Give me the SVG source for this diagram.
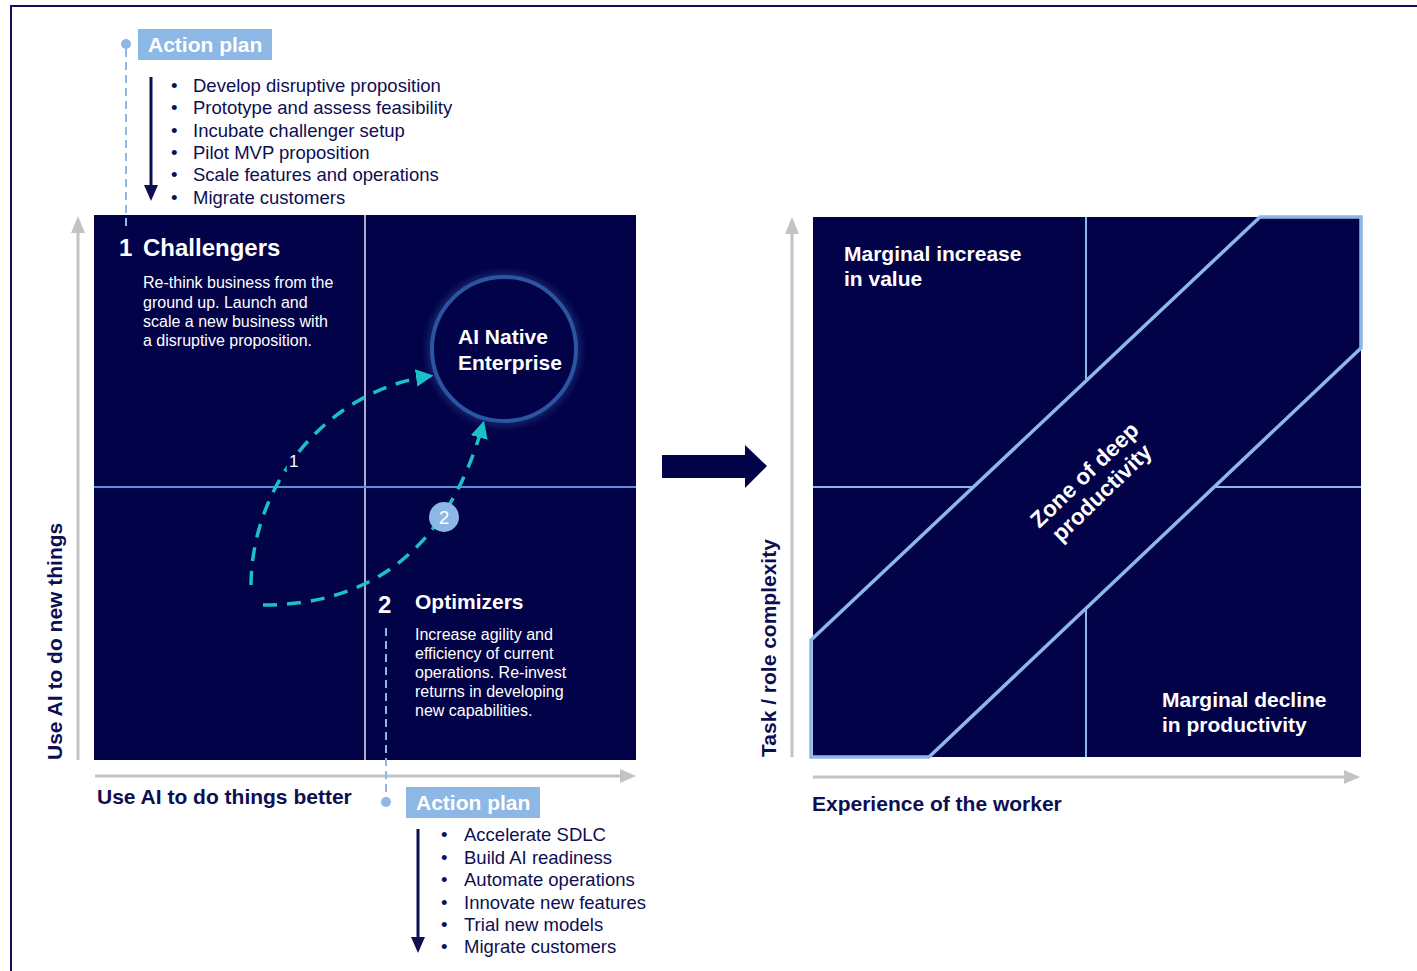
<svg xmlns="http://www.w3.org/2000/svg" width="1417" height="971" viewBox="0 0 1417 971">
<defs>
<style>
.t{font-family:"Liberation Sans",Arial,sans-serif;}
.b{font-weight:bold;}
.nv{fill:#0e0e52;}
.wh{fill:#ffffff;}
.panel{fill:#020248;}
.axis{stroke:#c3c3c3;stroke-width:3;fill:none;}
.axh{fill:#c3c3c3;}
.cy{stroke:#1ac2c8;stroke-width:3.5;fill:none;stroke-dasharray:14 10;}
.apdash{stroke:#8db7e5;stroke-width:2;stroke-dasharray:8 5;fill:none;}
.lb{stroke:#8db7e5;stroke-width:2;fill:none;}
.bul{font-size:18.5px;}
.desc{font-size:16px;}
</style>
<marker id="cyArrow" viewBox="0 0 10 10" refX="8" refY="5" markerWidth="5" markerHeight="5" markerUnits="strokeWidth" orient="auto">
<path d="M0,0 L10,5 L0,10 z" fill="#1ac2c8"/>
</marker>
<filter id="glow" x="-30%" y="-30%" width="160%" height="160%">
<feGaussianBlur stdDeviation="4"/>
</filter>
</defs>

<rect x="11" y="6" width="1420" height="980" fill="none" stroke="#10105a" stroke-width="2"/>

<!-- Left quadrant panel -->
<g id="left-panel">
<rect class="panel" x="94" y="215" width="542" height="545"/>
<line x1="365" y1="215" x2="365" y2="760" stroke="#a9afcc" stroke-width="2"/>
<line x1="94" y1="487" x2="636" y2="487" stroke="#5b8fd6" stroke-width="2"/>
</g>

<!-- Axes left -->
<g id="left-axes">
<line class="axis" x1="78" y1="760" x2="78" y2="230"/>
<polygon class="axh" points="71,233 85,233 78,216"/>
<line class="axis" x1="95" y1="776" x2="620" y2="776"/>
<polygon class="axh" points="620,769 620,783 636,776"/>
<text class="t b nv" font-size="21" transform="translate(62,760) rotate(-90)">Use AI to do new things</text>
<text class="t b nv" font-size="21" x="97" y="804">Use AI to do things better</text>
</g>

<!-- Top action plan -->
<g id="action-plan-top">
<line class="apdash" x1="126" y1="49" x2="126" y2="230"/>
<circle cx="126" cy="44" r="5" fill="#8db7e5"/>
<rect x="138" y="29" width="134" height="31" fill="#8db7e5"/>
<text class="t b wh" font-size="21" x="148" y="52">Action plan</text>
<line x1="151" y1="77" x2="151" y2="188" stroke="#0e0e52" stroke-width="3"/>
<polygon points="144,185 158,185 151,201" fill="#0e0e52"/>
<g class="t nv bul">
<text x="171" y="92">•</text><text x="193" y="92">Develop disruptive proposition</text>
<text x="171" y="114">•</text><text x="193" y="114">Prototype and assess feasibility</text>
<text x="171" y="137">•</text><text x="193" y="137">Incubate challenger setup</text>
<text x="171" y="159">•</text><text x="193" y="159">Pilot MVP proposition</text>
<text x="171" y="181">•</text><text x="193" y="181">Scale features and operations</text>
<text x="171" y="204">•</text><text x="193" y="204">Migrate customers</text>
</g>
</g>

<!-- Challengers -->
<g id="challengers">
<text class="t b wh" font-size="24" x="119" y="256">1</text>
<text class="t b wh" font-size="24" x="143" y="256">Challengers</text>
<g class="t wh desc">
<text x="143" y="288">Re-think business from the</text>
<text x="143" y="308">ground up. Launch and</text>
<text x="143" y="327">scale a new business with</text>
<text x="143" y="346">a disruptive proposition.</text>
</g>
</g>

<!-- AI Native Enterprise -->
<g id="ai-native">
<circle cx="504" cy="349" r="72" fill="none" stroke="#3a64b0" stroke-width="6" opacity="0.6" filter="url(#glow)"/>
<circle cx="504" cy="349" r="72" fill="#020248" stroke="#2a55a0" stroke-width="4"/>
<text class="t b wh" font-size="21" x="458" y="344">AI Native</text>
<text class="t b wh" font-size="21" x="458" y="370">Enterprise</text>
</g>

<!-- Connectors -->
<g id="connectors">
<path class="cy" d="M251,585 C252,480 330,390 430,376" marker-end="url(#cyArrow)"/>
<path class="cy" d="M263,605 C360,605 445,560 483,424" marker-end="url(#cyArrow)"/>
<text class="t wh" font-size="17" x="289" y="467" stroke="#020248" stroke-width="7" paint-order="stroke">1</text>
<circle cx="444" cy="517" r="15" fill="#8db7e5"/>
<text class="t wh" font-size="19" x="444" y="524" text-anchor="middle">2</text>
<path d="M662,455 L745,455 L745,445 L767,466 L745,488 L745,478 L662,478 z" fill="#020248"/>
</g>

<!-- Optimizers -->
<g id="optimizers">
<text class="t b wh" font-size="24" x="378" y="613">2</text>
<text class="t b wh" font-size="21" x="415" y="609">Optimizers</text>
<g class="t wh desc">
<text x="415" y="640">Increase agility and</text>
<text x="415" y="659">efficiency of current</text>
<text x="415" y="678">operations. Re-invest</text>
<text x="415" y="697">returns in developing</text>
<text x="415" y="716">new capabilities.</text>
</g>
</g>

<!-- Bottom action plan -->
<g id="action-plan-bottom">
<line class="apdash" x1="386" y1="628" x2="386" y2="797"/>
<circle cx="386" cy="802" r="5" fill="#8db7e5"/>
<rect x="406" y="787" width="134" height="31" fill="#8db7e5"/>
<text class="t b wh" font-size="21" x="416" y="810">Action plan</text>
<line x1="418" y1="829" x2="418" y2="940" stroke="#0e0e52" stroke-width="3"/>
<polygon points="411,937 425,937 418,953" fill="#0e0e52"/>
<g class="t nv bul">
<text x="441" y="841">•</text><text x="464" y="841">Accelerate SDLC</text>
<text x="441" y="864">•</text><text x="464" y="864">Build AI readiness</text>
<text x="441" y="886">•</text><text x="464" y="886">Automate operations</text>
<text x="441" y="909">•</text><text x="464" y="909">Innovate new features</text>
<text x="441" y="931">•</text><text x="464" y="931">Trial new models</text>
<text x="441" y="953">•</text><text x="464" y="953">Migrate customers</text>
</g>
</g>

<!-- Right panel -->
<g id="right-panel">
<rect class="panel" x="813" y="217" width="548" height="540"/>
<line class="lb" x1="1086" y1="217" x2="1086" y2="381"/>
<line class="lb" x1="1086" y1="608" x2="1086" y2="757"/>
<line class="lb" x1="813" y1="487" x2="974" y2="487"/>
<line class="lb" x1="1214" y1="487" x2="1361" y2="487"/>
<polygon points="811,640 1260,217 1361,217 1361,348 929,757 811,757" fill="none" stroke="#8db7e5" stroke-width="3.5" stroke-linejoin="miter"/>
<text class="t b wh" font-size="22.5" transform="translate(1098,489) rotate(-44)" text-anchor="middle"><tspan x="0" y="-12">Zone of deep</tspan><tspan x="0" y="13">productivity</tspan></text>
<text class="t b wh" font-size="21" x="844" y="261">Marginal increase</text>
<text class="t b wh" font-size="21" x="844" y="286">in value</text>
<text class="t b wh" font-size="21" x="1162" y="707">Marginal decline</text>
<text class="t b wh" font-size="21" x="1162" y="732">in productivity</text>
</g>

<!-- Axes right -->
<g id="right-axes">
<line class="axis" x1="792" y1="757" x2="792" y2="232"/>
<polygon class="axh" points="785,234 799,234 792,217"/>
<line class="axis" x1="813" y1="777" x2="1344" y2="777"/>
<polygon class="axh" points="1344,770 1344,784 1360,777"/>
<text class="t b nv" font-size="21" transform="translate(776,757) rotate(-90)">Task / role complexity</text>
<text class="t b nv" font-size="21" x="812" y="811">Experience of the worker</text>
</g>
</svg>
